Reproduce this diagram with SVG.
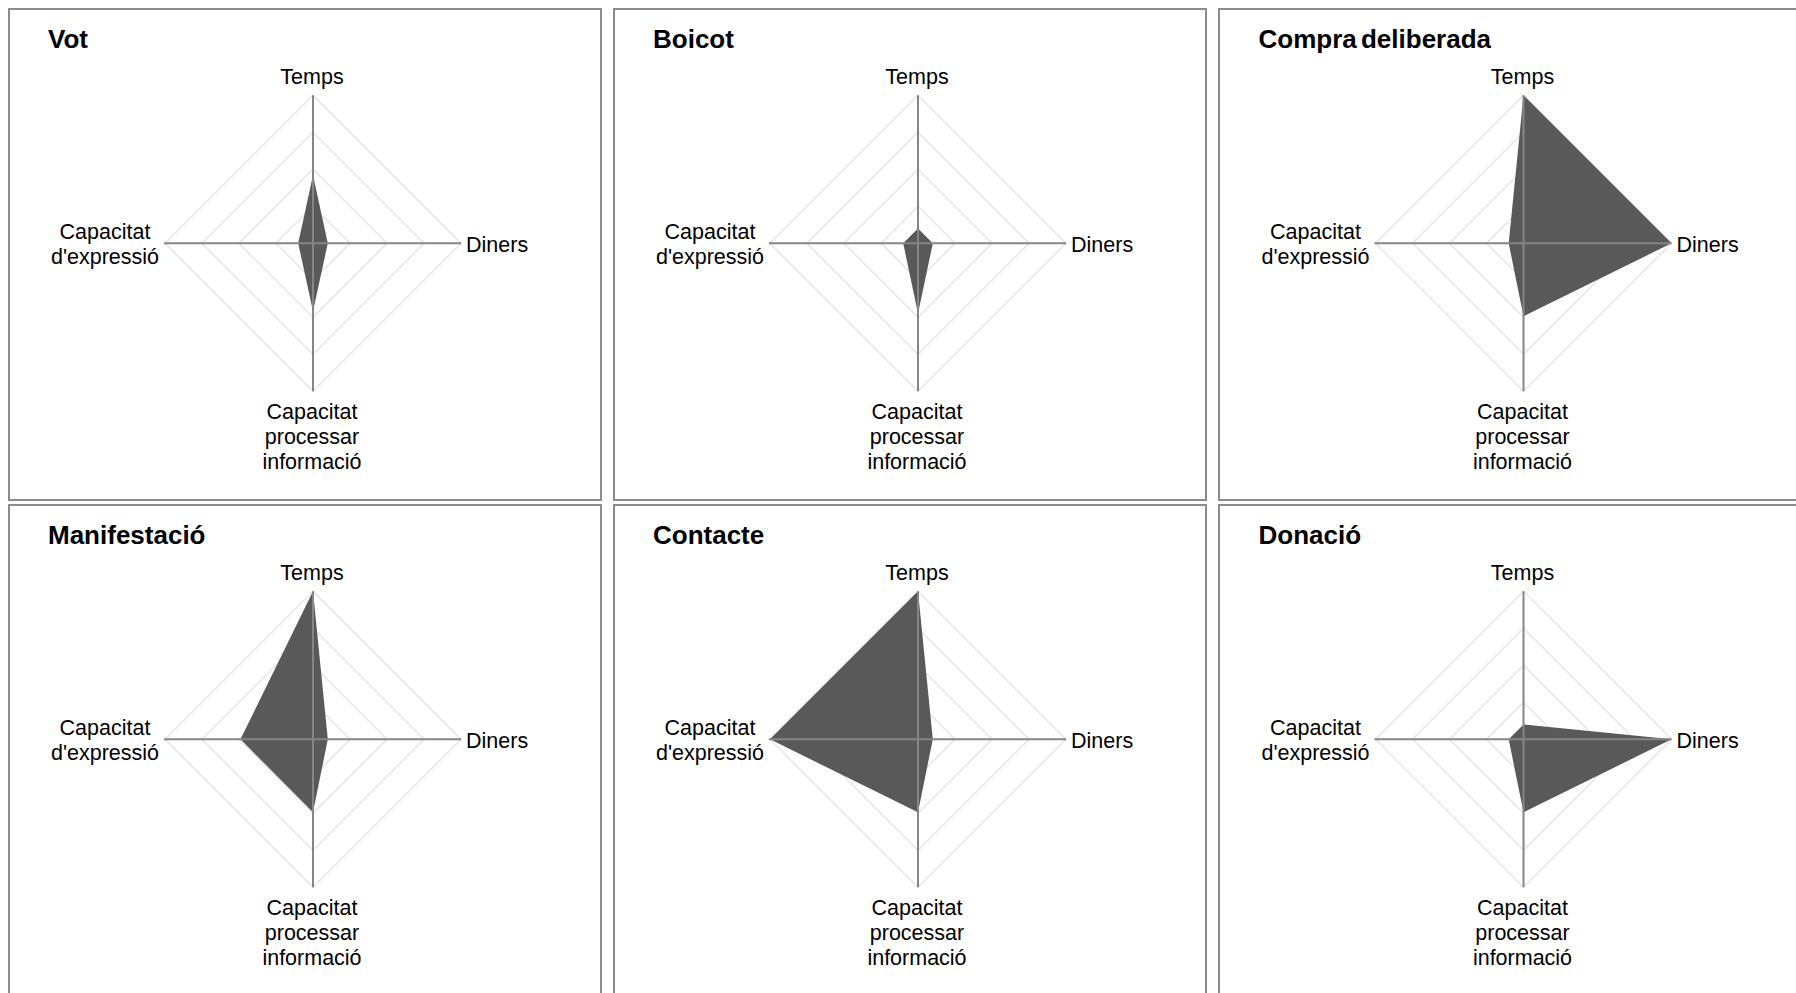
<svg xmlns="http://www.w3.org/2000/svg" xmlns:xlink="http://www.w3.org/1999/xlink" width="1796" height="993" viewBox="0 0 1796 993">
<style>
.frame{fill:#ffffff;stroke:#8c8c8c;stroke-width:2}
.ring{fill:none;stroke:#e6e6e6;stroke-width:1.5}
.axis{stroke:#868686;stroke-width:2;fill:none}
.area{fill:#595959;stroke:none}
.lbl{font-family:"Liberation Sans",Arial,sans-serif;font-size:21.5px;fill:#000}
.mid{text-anchor:middle}
.title{font-family:"Liberation Sans",Arial,sans-serif;font-size:26px;font-weight:bold;fill:#000;word-spacing:-3px}
</style>
<defs>
<g id="grid">
<polygon class="ring" points="0,-37 37,0 0,37 -37,0"/>
<polygon class="ring" points="0,-74 74,0 0,74 -74,0"/>
<polygon class="ring" points="0,-111 111,0 0,111 -111,0"/>
<polygon class="ring" points="0,-148 148,0 0,148 -148,0"/>
</g>
<g id="axes">
<line class="axis" x1="0" y1="-148" x2="0" y2="148"/>
<line class="axis" x1="-149" y1="0" x2="148" y2="0"/>
</g>
<g id="labels">
<text class="lbl mid" x="-1" y="-159">Temps</text>
<text class="lbl" x="153" y="8.5">Diners</text>
<text class="lbl mid" x="-208" y="-4">Capacitat</text>
<text class="lbl mid" x="-208" y="21">d'expressió</text>
<text class="lbl mid" x="-1" y="176">Capacitat</text>
<text class="lbl mid" x="-1" y="201">processar</text>
<text class="lbl mid" x="-1" y="226">informació</text>
</g>
</defs>
<rect x="0" y="0" width="1796" height="993" fill="#ffffff"/>

<g id="panel-vot" transform="translate(313,243.3)">
<rect class="frame" x="-304" y="-234.3" width="592" height="491"/>
<text class="title" x="-265" y="-195">Vot</text>
<use xlink:href="#grid"/>
<polygon class="area" points="0,-68 14.8,0 0,68 -14.8,0"/>
<use xlink:href="#axes"/>
<use xlink:href="#labels"/>
</g>

<g id="panel-boicot" transform="translate(918,243.3)">
<rect class="frame" x="-304" y="-234.3" width="592" height="491"/>
<text class="title" x="-265" y="-195">Boicot</text>
<use xlink:href="#grid"/>
<polygon class="area" points="0,-14.8 14.8,0 0,70.3 -14.8,0"/>
<use xlink:href="#axes"/>
<use xlink:href="#labels"/>
</g>

<g id="panel-compra" transform="translate(1523.5,243.3)">
<rect class="frame" x="-304.5" y="-234.3" width="592" height="491"/>
<text class="title" x="-265" y="-195">Compra deliberada</text>
<use xlink:href="#grid"/>
<polygon class="area" points="0,-148 148,0 0,73 -14.8,0"/>
<use xlink:href="#axes"/>
<use xlink:href="#labels"/>
</g>

<g id="panel-manifestacio" transform="translate(313,739.3)">
<rect class="frame" x="-304" y="-234.3" width="592" height="491"/>
<text class="title" x="-265" y="-195">Manifestació</text>
<use xlink:href="#grid"/>
<polygon class="area" points="0,-148 14.8,0 0,73 -72.5,0"/>
<use xlink:href="#axes"/>
<use xlink:href="#labels"/>
</g>

<g id="panel-contacte" transform="translate(918,739.3)">
<rect class="frame" x="-304" y="-234.3" width="592" height="491"/>
<text class="title" x="-265" y="-195">Contacte</text>
<use xlink:href="#grid"/>
<polygon class="area" points="0,-148 14.8,0 0,73 -148,0"/>
<use xlink:href="#axes"/>
<use xlink:href="#labels"/>
</g>

<g id="panel-donacio" transform="translate(1523.5,739.3)">
<rect class="frame" x="-304.5" y="-234.3" width="592" height="491"/>
<text class="title" x="-265" y="-195">Donació</text>
<use xlink:href="#grid"/>
<polygon class="area" points="0,-14.8 148,0 0,73 -14.8,0"/>
<use xlink:href="#axes"/>
<use xlink:href="#labels"/>
</g>

<g id="connectors"/>
</svg>
